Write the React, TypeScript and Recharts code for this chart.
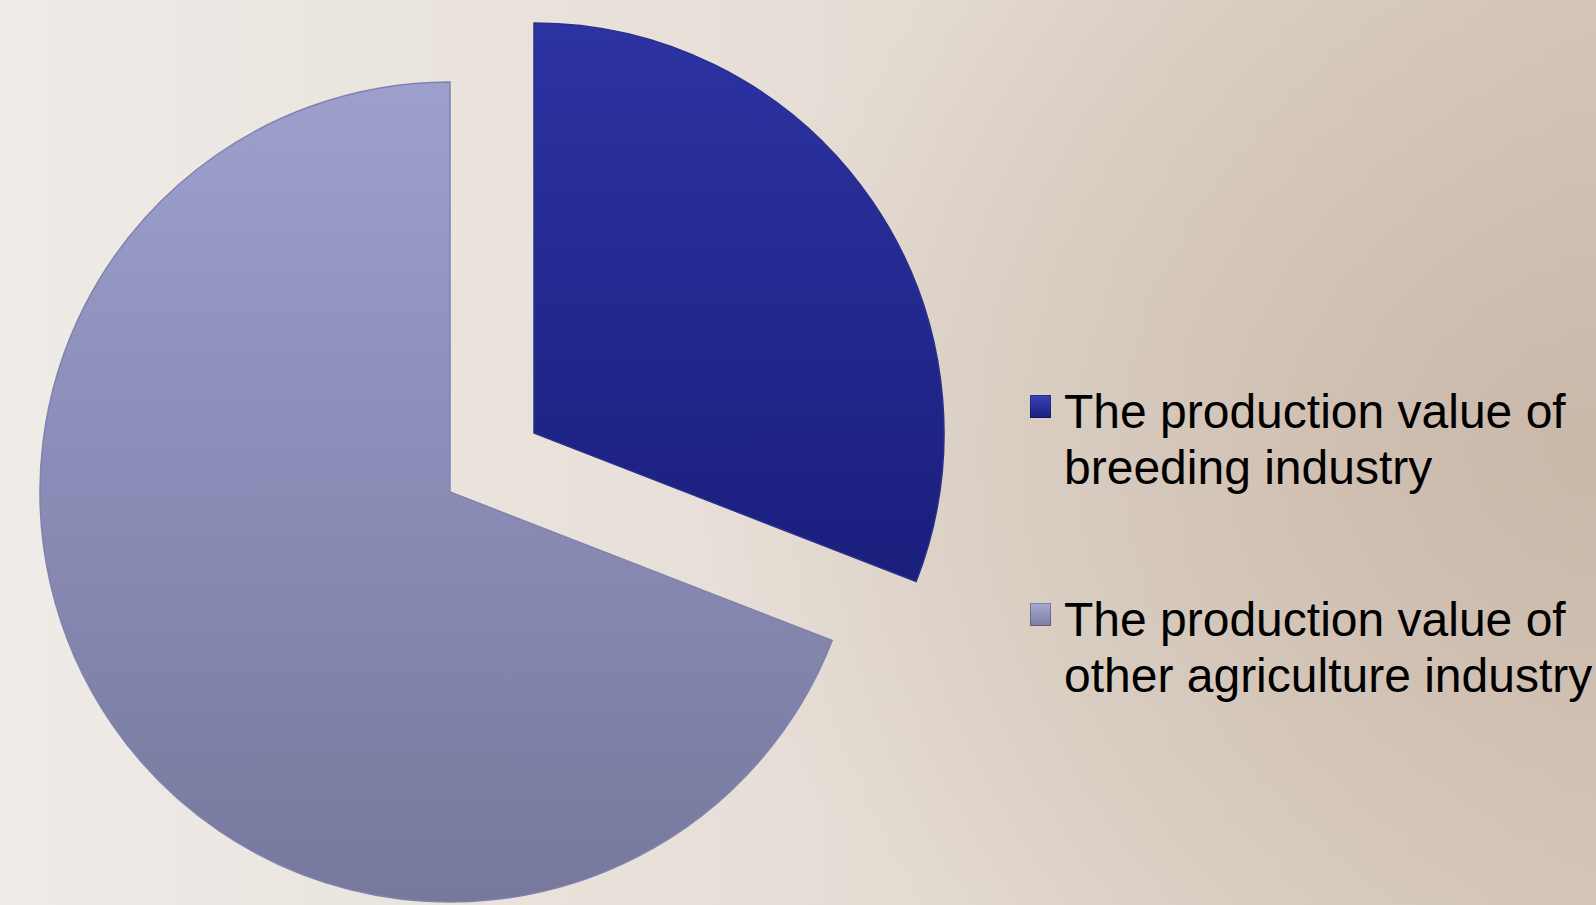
import React from "react";
import { PieChart, Pie, Cell } from "recharts";

const categories = [
  "The production value of breeding industry",
  "The production value of other agriculture industry",
];
const values = [30.9, 69.1];
const legendLines = [
  ["The production value of", "breeding industry"],
  ["The production value of", "other agriculture industry"],
];

const data = categories.map((name, i) => ({ name, value: values[i] }));

const fills = ["url(#gradDark)", "url(#gradLight)"];
const strokes = ["#2a2f8c", "#7f82ad"];
const markerFills = ["linear-gradient(180deg,#3a42b8,#1b1f80)", "linear-gradient(180deg,#a8aad4,#7a7da0)"];

export default function App() {
  return (
    <div
      style={{
        position: "fixed",
        left: 0,
        top: 0,
        width: 1596,
        height: 905,
        overflow: "hidden",
        background:
          "radial-gradient(ellipse 900px 700px at 100% 50%, rgba(200,182,166,0.9) 0%, rgba(200,182,166,0) 100%), linear-gradient(90deg, #efebe7 0%, #e6ded6 50%, #d8ccc0 100%)",
        fontFamily: "'Liberation Sans', Arial, sans-serif",
      }}
    >
      <PieChart width={1596} height={905} margin={{ top: 0, right: 0, bottom: 0, left: 0 }}>
        <defs>
          <linearGradient id="gradDark" x1="0" y1="0" x2="0" y2="1">
            <stop offset="0%" stopColor="#2c33a2" />
            <stop offset="100%" stopColor="#1a1e7c" />
          </linearGradient>
          <linearGradient id="gradLight" x1="0" y1="0" x2="0" y2="1">
            <stop offset="0%" stopColor="#9d9fcd" />
            <stop offset="55%" stopColor="#888ab4" />
            <stop offset="100%" stopColor="#76799c" />
          </linearGradient>
        </defs>
        <Pie
          data={data}
          dataKey="value"
          nameKey="name"
          cx={450}
          cy={492}
          outerRadius={410}
          startAngle={90}
          endAngle={-270}
          isAnimationActive={false}
          label={false}
          labelLine={false}
        >
          {data.map((d, i) => (
            <Cell
              key={d.name}
              fill={i === 1 ? fills[i] : "none"}
              stroke={i === 1 ? strokes[i] : "none"}
              strokeWidth={1.5}
            />
          ))}
        </Pie>
        <Pie
          data={data}
          dataKey="value"
          nameKey="name"
          cx={534}
          cy={433}
          outerRadius={410}
          startAngle={90}
          endAngle={-270}
          isAnimationActive={false}
          label={false}
          labelLine={false}
        >
          {data.map((d, i) => (
            <Cell
              key={d.name}
              fill={i === 0 ? fills[i] : "none"}
              stroke={i === 0 ? strokes[i] : "none"}
              strokeWidth={1.5}
            />
          ))}
        </Pie>
      </PieChart>
      {legendLines.map((lines, i) => (
        <div
          key={i}
          style={{
            position: "absolute",
            left: 1030,
            top: i === 0 ? 384 : 592,
            fontSize: 48,
            lineHeight: "56px",
            color: "#000",
            whiteSpace: "nowrap",
          }}
        >
          <div
            style={{
              position: "absolute",
              left: 0,
              top: 11,
              width: 21,
              height: 23,
              background: markerFills[i],
              boxShadow: "inset 0 0 0 1px rgba(0,0,0,0.25)",
            }}
          />
          <div style={{ marginLeft: 34 }}>
            {lines.map((l) => (
              <div key={l}>{l}</div>
            ))}
          </div>
        </div>
      ))}
    </div>
  );
}
